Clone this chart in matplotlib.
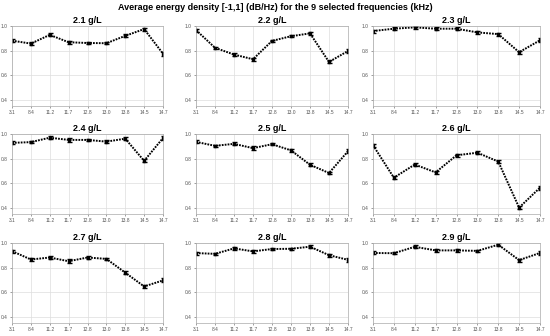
import matplotlib
matplotlib.use("Agg")
import matplotlib.pyplot as plt
import numpy as np

plt.rcParams['font.family'] = ['Liberation Sans', 'DejaVu Sans']

freq_labels = ["3.1", "8.4", "11.2", "11.7", "12.8", "13.0", "13.8", "14.5", "14.7"]
panel_titles = ["2.1 g/L", "2.2 g/L", "2.3 g/L", "2.4 g/L", "2.5 g/L",
                "2.6 g/L", "2.7 g/L", "2.8 g/L", "2.9 g/L"]

v21 = [0.881, 0.857, 0.928, 0.868, 0.862, 0.860, 0.920, 0.975, 0.775]
v22 = [0.967, 0.823, 0.768, 0.730, 0.879, 0.917, 0.940, 0.708, 0.797]
v23 = [0.959, 0.978, 0.989, 0.978, 0.978, 0.948, 0.934, 0.787, 0.884]
v24 = [0.928, 0.934, 0.970, 0.952, 0.952, 0.938, 0.962, 0.782, 0.967]
v25 = [0.936, 0.904, 0.920, 0.885, 0.917, 0.867, 0.750, 0.683, 0.860]
v26 = [0.909, 0.645, 0.752, 0.688, 0.827, 0.848, 0.776, 0.402, 0.564]
v27 = [0.934, 0.866, 0.882, 0.852, 0.882, 0.871, 0.759, 0.647, 0.696]
v28 = [0.918, 0.912, 0.956, 0.932, 0.951, 0.953, 0.970, 0.901, 0.863]
v29 = [0.919, 0.917, 0.969, 0.940, 0.940, 0.936, 0.986, 0.861, 0.919]
values = [v21, v22, v23, v24, v25, v26, v27, v28, v29]

err = [0.012, 0.010, 0.012, 0.014, 0.010, 0.010, 0.012, 0.012, 0.016]

yticks = [0.4, 0.6, 0.8, 1.0]

W, H = 550, 336
fig = plt.figure(figsize=(5.5, 3.36), dpi=100)

col_px = [(12, 163), (196, 348), (373, 540)]
row_px = [(26, 106), (134, 214), (243, 323)]

x = np.arange(1, len(freq_labels) + 1)
for i, (vals, title) in enumerate(zip(values, panel_titles)):
    r, c = divmod(i, 3)
    x0, x1 = col_px[c]
    y0, y1 = row_px[r]
    ax = fig.add_axes([x0 / W, 1 - y1 / H, (x1 - x0) / W, (y1 - y0) / H])
    line, caps, bars = ax.errorbar(x, vals, yerr=err, color='black', linestyle=':',
                                   linewidth=1.4, marker='s', markersize=2,
                                   capsize=1.8, elinewidth=1.0, capthick=1.0)
    line.set_dashes((0.9, 0.6))
    ax.set_xlim(1, 9)
    ax.set_ylim(0.35, 1.0)
    ax.set_xticks(x)
    ax.set_xticklabels(freq_labels)
    ax.set_yticks(yticks)
    ax.set_yticklabels([f"{t:.1f}" for t in yticks])
    ax.tick_params(labelsize=3.5, length=1.5, width=0.4, colors='#555555', pad=1.5)
    ax.grid(True, color='#dddddd', linewidth=0.5)
    ax.set_axisbelow(True)
    for s in ax.spines.values():
        s.set_color('#aaaaaa')
        s.set_linewidth(0.5)
    ax.set_title(title, fontsize=6.5, fontweight='bold', pad=2)

fig.text(0.5, 1 - 8 / H, "Average energy density [-1,1] (dB/Hz) for the 9 selected frequencies (kHz)",
         ha='center', va='center', fontsize=6.5, fontweight='bold')

fig.savefig("out.png", dpi=100)
